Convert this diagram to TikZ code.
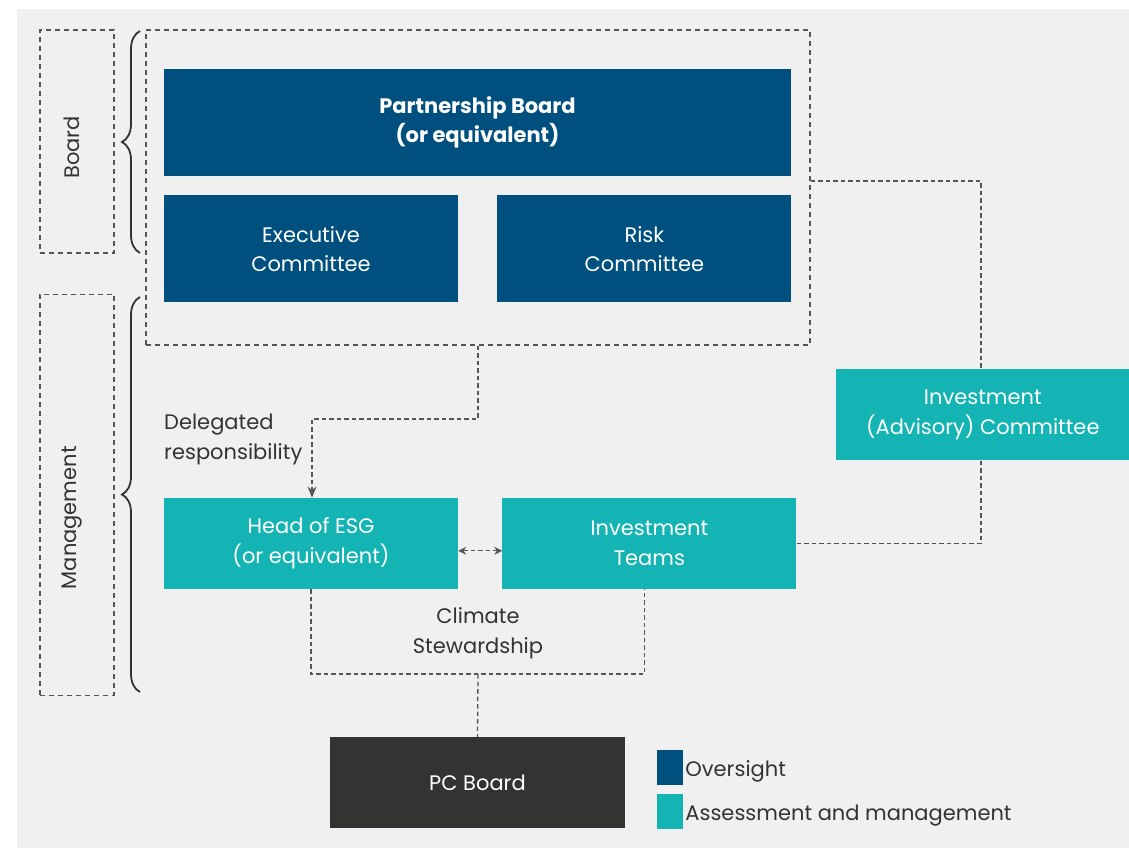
\documentclass[tikz,border=0pt]{standalone}
\usepackage{fontspec}
\setmainfont{Poppins}
\usepackage{xcolor}
\usepackage{tikz}
\usetikzlibrary{positioning}
\usetikzlibrary{arrows.meta}
\usetikzlibrary{decorations.pathreplacing}
\definecolor{oversightblue}{HTML}{00507F}
\definecolor{assessteal}{HTML}{14B4B4}
\definecolor{pcgray}{HTML}{333331}
\definecolor{canvasgray}{HTML}{F0F0F0}
\definecolor{linegray}{HTML}{555555}
\definecolor{textgray}{HTML}{333333}

\begin{document}
\begin{tikzpicture}
        [x=1pt, y=-1pt,
         every node/.style={font=\fontsize{21}{29.5}\selectfont, inner sep=0pt, align=center},
         oversight/.style={rectangle, fill=oversightblue, text=white, minimum width=294pt, minimum height=107pt},
         assess/.style={rectangle, fill=assessteal, text=white, minimum width=294pt, minimum height=91pt},
         frame/.style={rectangle, draw=linegray, line width=1.2pt, dash pattern=on 5pt off 4pt},
         link/.style={draw=linegray, line width=1.3pt, dash pattern=on 4.5pt off 3pt},
         bracket/.style={draw=textgray, line width=1.8pt, decorate, decoration={brace, amplitude=18pt}},
         key/.style={rectangle, minimum width=26pt, minimum height=35pt},
         label/.style={text=textgray}]
        \useasboundingbox (0,0) rectangle (1129,848);
        \fill[canvasgray] (17,9) rectangle (1129,848);

        \node[oversight, minimum width=627pt, font=\bfseries\fontsize{21}{29.5}\selectfont]  (PB) at (477.5,122.5) {Partnership Board\\(or equivalent)};
        \node[oversight]  (EC) [below right=19pt and 0pt of PB.south west] {Executive\\Committee};
        \node[oversight]  (RC) [right=39pt of EC] {Risk\\Committee};
        \node[frame, minimum width=664pt, minimum height=315pt]  (BB) at (478,187.5) {};
        \node[assess]  (ESG) [below=195pt of EC] {Head of ESG\\(or equivalent)};
        \node[assess]  (IT) [right=44pt of ESG] {Investment\\Teams};
        \node[assess]  (IAC) [above right=37pt and 39pt of IT.north east] {Investment\\(Advisory) Committee};
        \node[rectangle, fill=pcgray, text=white, minimum width=295pt, minimum height=91pt]  (PC) at (477.5,782.5) {PC Board};

        \node[frame, minimum width=74pt, minimum height=223pt]  (FB) at (77,141.5) {};
        \node[frame, minimum width=74pt, minimum height=401pt]  (FM) [below=40pt of FB] {};
        \node[label, rotate=90]  (FBT) at ([xshift=-5pt, yshift=-6pt]FB.center) {Board};
        \node[label, rotate=90]  (FMT) at ([xshift=-5pt, yshift=-23pt]FM.center) {Management};
        \draw[bracket] (140,253) -- (140,31);
        \draw[bracket] (140,692) -- (140,297);

        \node[label, align=left, anchor=west]  (DRT) at (164,439.5) {Delegated\\responsibility};
        \node[label]  (CST) at (478,633) {Climate\\Stewardship};

        \node[key, fill=oversightblue]  (KO) at (670,767.5) {};
        \node[key, fill=assessteal]  (KA) [below=9pt of KO] {};
        \node[label, anchor=base west]  (KOT) at ([xshift=2pt, yshift=-9pt]KO.east) {Oversight};
        \node[label, anchor=base west]  (KAT) at ([xshift=2pt, yshift=-9pt]KA.east) {Assessment and management};

        \coordinate (DR) at (312,419);
        \coordinate (AT) at (981,181);
        \coordinate (CS) at (478,674);

        \draw[link, -{Stealth[length=11pt, width=9pt]}] (BB.south) |- (DR) -- (DR |- ESG.north);
        \draw[link, {Stealth[length=8pt, width=8pt]}-{Stealth[length=8pt, width=8pt]}] ([yshift=-7.5pt]ESG.east) -- ([yshift=-7.5pt]IT.west);
        \draw[link] (AT -| BB.east) -- (AT) -- (AT |- IAC.north);
        \draw[link] (AT |- IAC.south) |- (IT.east);
        \draw[link] (ESG.south) |- (CS) -| ([xshift=-5pt]IT.south);
        \draw[link] (CS) -- (PC.north);
\end{tikzpicture}
\end{document}
